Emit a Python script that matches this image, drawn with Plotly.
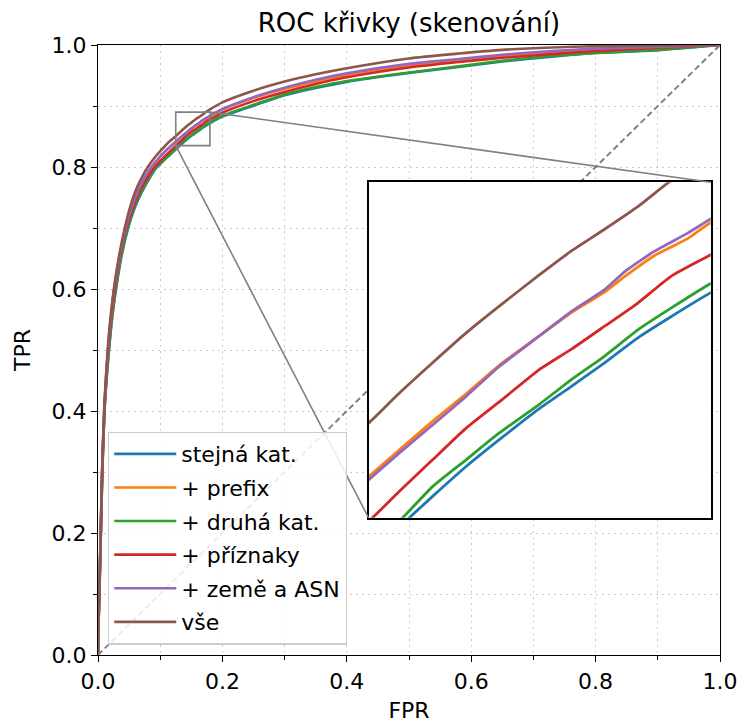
import plotly.graph_objects as go

# ---------------- data ----------------
series_names = ["stejná kat.", "+ prefix", "+ druhá kat.", "+ příznaky", "+ země a ASN", "vše"]
series_colors = ["#1f77b4", "#ff7f0e", "#2ca02c", "#d62728", "#9467bd", "#8c564b"]

fpr_stejna = [0, .0008, .0027, .0046, .007, .011, .0177, .023, .029, .038, .0485, .059, .071, .083, .095, .104, .113,
              .13155, .13529, .14068, .14601, .15245, .15756, .16295, .16829, .17368, .18,
              .20, .25, .30, .35, .40, .50, .58, .65, .73, .80, .90, 1.0]
tpr_stejna = [0, .05, .12, .20, .30, .41, .50, .555, .60, .655, .70, .733, .76, .782, .80, .809, .8175,
              .835, .8385, .8434, .8478, .8529, .8565, .8604, .8645, .8680, .8719,
              .8825, .9005, .9175, .9295, .9395, .954, .964, .973, .981, .987, .9915, 1.0]

fpr_prefix = [0, .0008, .0025, .0044, .0066, .0104, .016, .021, .026, .035, .0445, .054, .064, .075, .086, .095, .105,
              .125, .12992, .13529, .14068, .14601, .15245, .15756, .16295, .16625, .17098, .17637, .18,
              .20, .25, .30, .35, .40, .50, .58, .65, .73, .80, .90, 1.0]
tpr_prefix = [0, .05, .12, .20, .30, .41, .50, .555, .60, .655, .70, .733, .76, .782, .80, .811, .8225,
              .8417, .8461, .8508, .8553, .8600, .8648, .8686, .8720, .8746, .8780, .8808, .8834,
              .894, .913, .928, .940, .951, .966, .975, .982, .988, .992, .996, 1.0]

fpr_druha = [0, .0008, .0027, .0046, .007, .011, .0175, .0228, .0285, .0375, .048, .0585, .070, .082, .094, .103, .112,
             .13047, .13529, .14068, .14601, .15245, .15756, .16295, .16829, .17368, .18,
             .20, .25, .30, .35, .40, .50, .58, .65, .73, .80, .90, 1.0]
tpr_druha = [0, .05, .12, .20, .30, .41, .50, .555, .60, .655, .70, .733, .76, .782, .80, .809, .8175,
             .835, .8401, .8445, .8489, .8536, .8576, .8615, .8658, .8694, .8734,
             .884, .902, .919, .931, .941, .955, .965, .974, .982, .987, .992, 1.0]

fpr_priznaky = [0, .0008, .0026, .0045, .0068, .0107, .0165, .0218, .0272, .036, .046, .0565, .067, .079, .091, .100, .109,
                .12564, .12992, .13529, .14068, .14601, .15245, .15756, .16295, .16829, .17368, .18,
                .20, .25, .30, .35, .40, .50, .58, .65, .73, .80, .90, 1.0]
tpr_priznaky = [0, .05, .12, .20, .30, .41, .50, .555, .60, .655, .70, .733, .76, .782, .80, .8095, .819,
                .835, .8393, .8445, .8497, .8540, .8593, .8626, .8664, .8702, .8746, .8781,
                .889, .908, .923, .936, .947, .963, .972, .979, .985, .990, .995, 1.0]

fpr_zeme = [0, .0008, .0025, .0044, .0066, .0104, .016, .021, .026, .035, .0445, .054, .064, .075, .086, .095, .105,
            .125, .12992, .13529, .14068, .14601, .15245, .15756, .16295, .16625, .17098, .17637, .18,
            .20, .25, .30, .35, .40, .50, .58, .65, .73, .80, .90, 1.0]
tpr_zeme = [0, .05, .12, .20, .30, .41, .50, .555, .60, .655, .70, .733, .76, .782, .80, .811, .8225,
            .8412, .8456, .8502, .8549, .8598, .8648, .8688, .8724, .8754, .8787, .8817, .8840,
            .895, .9145, .930, .943, .9535, .969, .977, .984, .990, .994, .997, 1.0]

fpr_vse = [0, .0008, .0025, .0043, .0065, .0102, .0155, .0203, .0255, .034, .043, .0515, .060, .070, .080, .090, .100, .112,
           .125, .12992, .13529, .14068, .14601, .15245, .15756, .16295, .16829, .17313, .18,
           .20, .25, .30, .35, .40, .50, .58, .65, .73, .80, .90, 1.0]
tpr_vse = [0, .05, .12, .20, .30, .41, .50, .555, .60, .655, .70, .734, .76, .782, .80, .814, .826, .839,
           .8505, .8554, .8604, .8653, .8697, .8748, .8787, .8823, .8860, .8899, .8945,
           .906, .925, .940, .952, .962, .978, .986, .992, .996, .998, .999, 1.0]

series_fpr = [fpr_stejna, fpr_prefix, fpr_druha, fpr_priznaky, fpr_zeme, fpr_vse]
series_tpr = [tpr_stejna, tpr_prefix, tpr_druha, tpr_priznaky, tpr_zeme, tpr_vse]

diag = [0, 1]
zoom_x = [0.125, 0.18]
zoom_y = [0.835, 0.89]
inset_dom_x = [0.435, 0.985]
inset_dom_y = [0.225, 0.775]
tick_vals = [0.0, 0.2, 0.4, 0.6, 0.8, 1.0]

FONT = "DejaVu Sans"
BASE = 22
GRAY = "#808080"
GRID = "#cccccc"

fig = go.Figure()

# main curves
for name, col, xs, ys in zip(series_names, series_colors, series_fpr, series_tpr):
    fig.add_trace(go.Scatter(x=xs, y=ys, mode="lines", name=name,
                             line=dict(color=col, width=2.6, shape="spline", smoothing=0.6),
                             legendgroup=name, xaxis="x", yaxis="y"))
# diagonal
fig.add_trace(go.Scatter(x=diag, y=diag, mode="lines", showlegend=False,
                         line=dict(color=GRAY, width=2, dash="6px,3.5px"),
                         xaxis="x", yaxis="y"))
# inset curves
for name, col, xs, ys in zip(series_names, series_colors, series_fpr, series_tpr):
    fig.add_trace(go.Scatter(x=xs, y=ys, mode="lines", name=name, showlegend=False,
                             line=dict(color=col, width=2.8, shape="spline", smoothing=0.5),
                             xaxis="x2", yaxis="y2"))

# zoom rectangle and connector lines
fig.add_shape(type="rect", xref="x", yref="y", x0=zoom_x[0], x1=zoom_x[1],
              y0=zoom_y[0], y1=zoom_y[1], line=dict(color=GRAY, width=1.6))
fig.add_shape(type="line", xref="x", yref="y", x0=zoom_x[1], y0=zoom_y[1],
              x1=inset_dom_x[1], y1=inset_dom_y[1], line=dict(color=GRAY, width=1.6))
fig.add_shape(type="line", xref="x", yref="y", x0=zoom_x[0], y0=zoom_y[0],
              x1=inset_dom_x[0], y1=inset_dom_y[0], line=dict(color=GRAY, width=1.6))

axis_common = dict(
    range=[0, 1], tickvals=tick_vals, tickformat=".1f", automargin=False,
    showline=True, mirror=True, linecolor="black", linewidth=1.3,
    ticks="outside", ticklen=6, tickwidth=1.2, tickcolor="black",
    showgrid=True, gridcolor=GRID, griddash="2px,4px", gridwidth=1.2,
    zeroline=False,
    tickfont=dict(family=FONT, size=BASE, color="black"),
    minor=dict(dtick=0.1, tick0=0, ticks="outside", ticklen=3.5, tickwidth=1,
               tickcolor="black", showgrid=True, gridcolor=GRID, griddash="2px,4px", gridwidth=1.2),
)

fig.update_layout(
    template="none",
    width=744, height=726,
    margin=dict(l=98, r=24, t=45, b=71, autoexpand=False),
    paper_bgcolor="white", plot_bgcolor="white",
    font=dict(family=FONT, size=BASE, color="black"),
    title=dict(text="ROC křivky (skenování)", x=0.5, xref="paper", xanchor="center",
               y=1 - 23 / 726, yref="container", yanchor="middle",
               font=dict(family=FONT, size=26, color="black")),
    xaxis=dict(domain=[0, 1], title=dict(text="FPR", standoff=10,
               font=dict(family=FONT, size=BASE)), **axis_common),
    yaxis=dict(domain=[0, 1], title=dict(text="TPR", standoff=14,
               font=dict(family=FONT, size=BASE)), **axis_common),
    xaxis2=dict(domain=inset_dom_x, anchor="y2", range=zoom_x, showline=True, mirror=True,
                linecolor="black", linewidth=1.5, showticklabels=False, ticks="",
                showgrid=False, zeroline=False, automargin=False),
    yaxis2=dict(domain=inset_dom_y, anchor="x2", range=zoom_y, showline=True, mirror=True,
                linecolor="black", linewidth=1.5, showticklabels=False, ticks="",
                showgrid=False, zeroline=False, automargin=False),
    legend=dict(x=0.016, y=0.366, xanchor="left", yanchor="top",
                bgcolor="rgba(255,255,255,0.85)", bordercolor="#cccccc", borderwidth=1.3,
                font=dict(family=FONT, size=BASE, color="black"),
                tracegroupgap=2, itemwidth=62),
    showlegend=True,
)

fig.write_html("out.html")
